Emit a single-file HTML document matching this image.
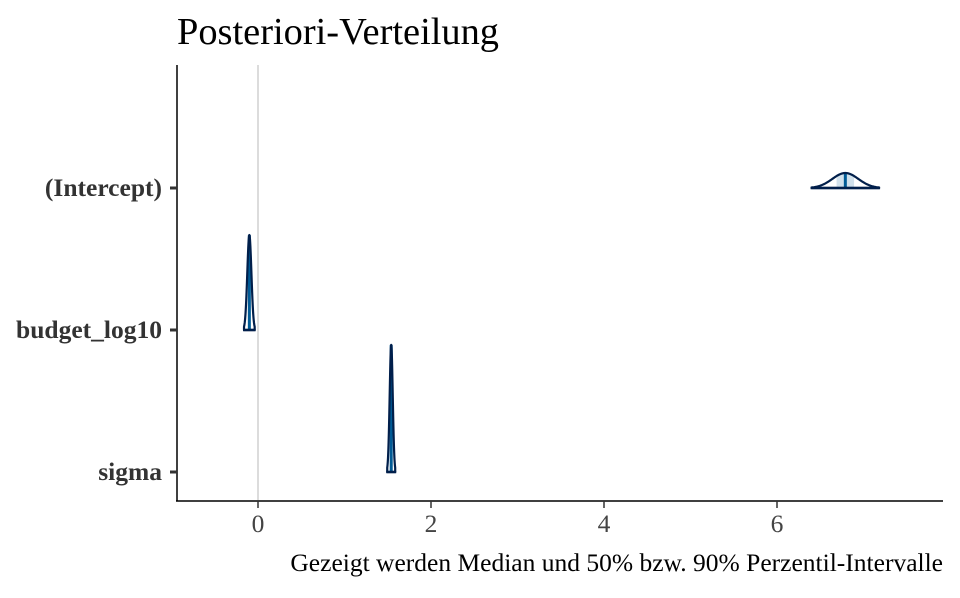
<!DOCTYPE html>
<html><head><meta charset="utf-8"><style>
body{margin:0;background:#fff}
svg text{font-family:"Liberation Serif",serif}
</style></head><body>
<svg id="c" width="960" height="593">
<text x="177" y="44" font-size="38.4" fill="#000">Posteriori-Verteilung</text>
<line x1="258" y1="65" x2="258" y2="500" stroke="#dcdcdc" stroke-width="2"/>
<g id="marks"></g>
<line x1="177" y1="65" x2="177" y2="501" stroke="#000" stroke-width="1.5"/>
<line x1="176" y1="501" x2="943" y2="501" stroke="#000" stroke-width="1.5"/>
<g id="axes"></g>
<text x="943" y="571" font-size="25.5" text-anchor="end" fill="#000">Gezeigt werden Median und 50% bzw. 90% Perzentil-Intervalle</text>
</svg>
<script>
const params = ["(Intercept)", "budget_log10", "sigma"];
const means = [6.79, -0.10, 1.54];
const sds = [0.15, 0.0237, 0.0177];
const xTicks = [0, 2, 4, 6];
function sx(v){return 258 + v*86.5;}
function sy(i){return 188 + i*142;}
const K = 2.25;
const Z = 2.6;
const ns="http://www.w3.org/2000/svg";
const marks=document.getElementById('marks'), axes=document.getElementById('axes');
function mk(tag,attrs,parent){const e=document.createElementNS(ns,tag);for(const k in attrs)e.setAttribute(k,attrs[k]);parent.appendChild(e);return e;}
params.forEach((p,i)=>{
  const m=means[i], s=sds[i], y0=sy(i);
  const dens=v=>K/s*Math.exp(-0.5*((v-m)/s)**2);
  function area(z){let pts=[];const n=80;for(let j=0;j<=n;j++){const v=m-z*s+2*z*s*j/n;pts.push(sx(v).toFixed(2)+','+(y0-dens(v)).toFixed(2));}return pts;}
  const inner=area(0.674);
  const f=mk('polygon',{points:sx(m-0.674*s)+','+y0+' '+inner.join(' ')+' '+sx(m+0.674*s)+','+y0,fill:'#d1e1ec',stroke:'none'},marks);
  
  
  const ml=mk('line',{x1:sx(m),x2:sx(m),y1:y0,y2:y0-dens(m),stroke:'#005b96','stroke-width':3},marks);
  
  
  const outer=area(Z);
  const o=mk('polygon',{points:sx(m-Z*s)+','+y0+' '+outer.join(' ')+' '+sx(m+Z*s)+','+y0,fill:'none',stroke:'#011f4b','stroke-width':2.2,'stroke-linejoin':'round'},marks);
  
  
  const b=mk('line',{x1:sx(m-Z*s)-1,x2:sx(m+Z*s)+1,y1:y0,y2:y0,stroke:'#011f4b','stroke-width':2.5},marks);
  
  
  const t=mk('line',{x1:170,x2:177,y1:y0,y2:y0,stroke:'#333','stroke-width':3},axes);
  
  
  const l=mk('text',{x:162,y:y0+8,'font-size':25.5,'font-weight':'bold','text-anchor':'end',fill:'#333'},axes);
  l.textContent=p;
  
  
});
xTicks.forEach(v=>{
  const t=mk('line',{x1:sx(v),x2:sx(v),y1:501,y2:508,stroke:'#333','stroke-width':1.5},axes);
  
  
  const l=mk('text',{x:sx(v),y:532,'font-size':25.5,'text-anchor':'middle',fill:'#444'},axes);
  l.textContent=v;
  
  
});
</script>
</body></html>
